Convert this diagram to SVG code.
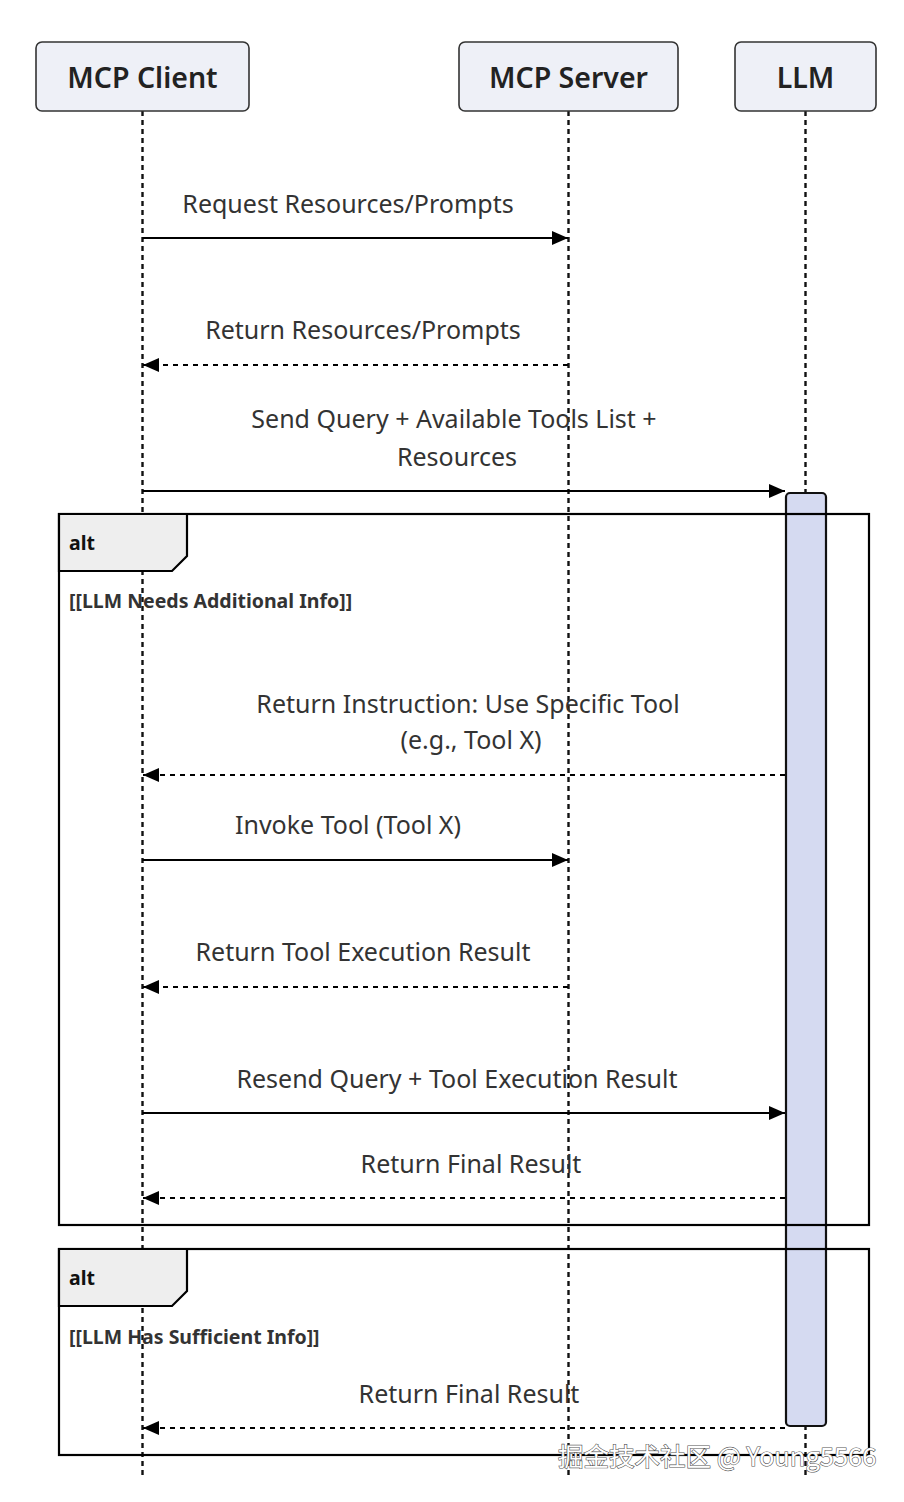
<svg xmlns="http://www.w3.org/2000/svg" width="904" height="1502" viewBox="0 0 904 1502">
<defs>
<style>
.actor{fill:#eef0f7;stroke:#333;stroke-width:1.6}
.actor-t{font-family:"Noto Sans",sans-serif;font-weight:600;font-size:28.5px;fill:#222;text-anchor:middle}
.life{stroke:#111;stroke-width:2.4;stroke-dasharray:5 4;fill:none}
.msg{stroke:#000;stroke-width:2.2;fill:none}
.dash{stroke-dasharray:5 5}
.mt{font-family:"Noto Sans",sans-serif;font-size:25px;fill:#333;text-anchor:middle}
.frame{fill:none;stroke:#000;stroke-width:2.2}
.lab{fill:#eeeeee;stroke:#000;stroke-width:2.2}
.lab-t{font-family:"Noto Sans",sans-serif;font-weight:700;font-size:19.5px;fill:#111}
.cond{font-family:"Noto Sans",sans-serif;font-weight:700;font-size:19.5px;fill:#333}
.act{fill:#d5daf1;stroke:#111;stroke-width:2.2}
.wm{font-family:"Noto Sans CJK SC","Noto Sans",sans-serif;font-size:25.5px;fill:#fff;stroke:#555;stroke-width:1.2;paint-order:stroke}
</style>
<marker id="ah" viewBox="0 0 16 14" refX="16" refY="7" markerWidth="16" markerHeight="14" markerUnits="userSpaceOnUse" orient="auto">
<path d="M0,0 L16,7 L0,14 z" fill="#000"/>
</marker>
</defs>

<g id="lifelines">
<line class="life" x1="142.5" y1="111" x2="142.5" y2="1478"/>
<line class="life" x1="568.5" y1="111" x2="568.5" y2="1478"/>
<line class="life" x1="805.5" y1="111" x2="805.5" y2="1478"/>
</g>

<g id="client">
<rect class="actor" x="36" y="42" width="213" height="69" rx="6"/>
<text class="actor-t" x="142.5" y="88">MCP Client</text>
</g>
<g id="server">
<rect class="actor" x="459" y="42" width="219" height="69" rx="6"/>
<text class="actor-t" x="568.5" y="88">MCP Server</text>
</g>
<g id="llm">
<rect class="actor" x="735" y="42" width="141" height="69" rx="6"/>
<text class="actor-t" x="805.5" y="88">LLM</text>
</g>

<g id="activation">
<rect class="act" x="786" y="493" width="40" height="933" rx="4"/>
</g>

<g id="frames">
<g id="alt1">
<rect class="frame" x="59" y="514" width="810" height="711"/>
<path class="lab" d="M59,514 L187,514 L187,556 L172,571 L59,571 Z"/>
<text class="lab-t" x="69" y="550">alt</text>
<text class="cond" x="69" y="608">[[LLM Needs Additional Info]]</text>
</g>
<g id="alt2">
<rect class="frame" x="59" y="1249" width="810" height="206"/>
<path class="lab" d="M59,1249 L187,1249 L187,1291 L172,1306 L59,1306 Z"/>
<text class="lab-t" x="69" y="1285">alt</text>
<text class="cond" x="69" y="1344">[[LLM Has Sufficient Info]]</text>
</g>
</g>

<g id="connectors">
<line class="msg" x1="142.5" y1="238" x2="568" y2="238" marker-end="url(#ah)"/>
<line class="msg dash" x1="568" y1="365" x2="143" y2="365" marker-end="url(#ah)"/>
<line class="msg" x1="142.5" y1="491" x2="785" y2="491" marker-end="url(#ah)"/>
<line class="msg dash" x1="785" y1="775" x2="143" y2="775" marker-end="url(#ah)"/>
<line class="msg" x1="142.5" y1="860" x2="568" y2="860" marker-end="url(#ah)"/>
<line class="msg dash" x1="568" y1="987" x2="143" y2="987" marker-end="url(#ah)"/>
<line class="msg" x1="142.5" y1="1113" x2="785" y2="1113" marker-end="url(#ah)"/>
<line class="msg dash" x1="785" y1="1198" x2="143" y2="1198" marker-end="url(#ah)"/>
<line class="msg dash" x1="785" y1="1428" x2="143" y2="1428" marker-end="url(#ah)"/>
</g>

<g id="labels">
<text class="mt" x="348" y="213">Request Resources/Prompts</text>
<text class="mt" x="363" y="339">Return Resources/Prompts</text>
<text class="mt" x="454" y="428">Send Query + Available Tools List +</text>
<text class="mt" x="457" y="466">Resources</text>
<text class="mt" x="468" y="713">Return Instruction: Use Specific Tool</text>
<text class="mt" x="471" y="749">(e.g., Tool X)</text>
<text class="mt" x="348" y="834">Invoke Tool (Tool X)</text>
<text class="mt" x="363" y="961">Return Tool Execution Result</text>
<text class="mt" x="457" y="1088">Resend Query + Tool Execution Result</text>
<text class="mt" x="471" y="1173">Return Final Result</text>
<text class="mt" x="469" y="1403">Return Final Result</text>
</g>

<text class="wm" x="558" y="1466">掘金技术社区 @ Young5566</text>
</svg>
